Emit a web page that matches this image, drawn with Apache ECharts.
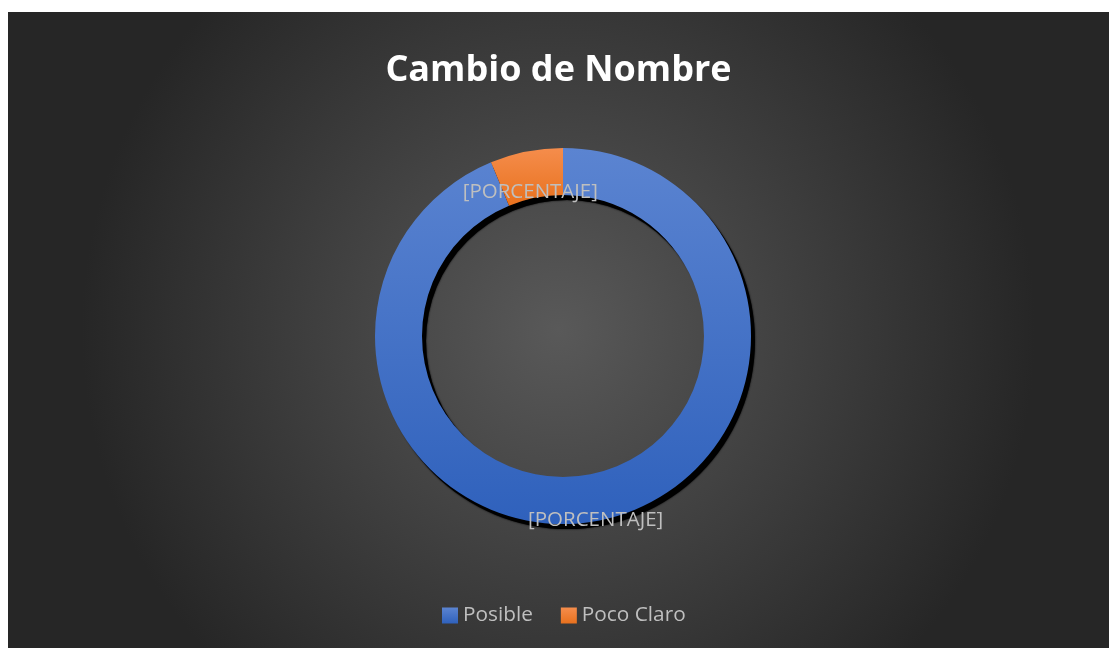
<!DOCTYPE html>
<html>
<head>
<meta charset="utf-8">
<script src="https://cdn.jsdelivr.net/npm/echarts@6/dist/echarts.min.js"></script>
<style>
  html, body { margin: 0; padding: 0; background: #ffffff; }
  .chart { position: absolute; left: 8px; top: 12px; width: 1101px; height: 636px; }
</style>
</head>
<body>
<div class="chart"></div>
<script>
// datos del gráfico
var categorias = ['Posible', 'Poco Claro'];
var valores = [15, 1];
var etiquetas = ['[PORCENTAJE]', '[PORCENTAJE]'];
var colores = [
  ['#5b84d1', '#2f61bc'],
  ['#f58d4c', '#e8711e']
];

var chartContainer = document.getElementsByClassName('chart')[0];
var chart = echarts.init(chartContainer);

var datos = categorias.map(function (nombre, i) {
  return {
    name: nombre,
    value: valores[i],
    label: { formatter: etiquetas[i] },
    itemStyle: {
      color: {
        type: 'linear', x: 0, y: 0, x2: 0, y2: 1,
        colorStops: [
          { offset: 0, color: colores[i][0] },
          { offset: 1, color: colores[i][1] }
        ]
      }
    }
  };
});

var option = {
  backgroundColor: {
    type: 'radial', x: 0.5, y: 0.5, r: 0.75,
    colorStops: [
      { offset: 0, color: '#595959' },
      { offset: 1, color: '#262626' }
    ]
  },
  title: {
    text: 'Cambio de Nombre',
    left: 'center',
    top: 36,
    textStyle: {
      fontFamily: 'Open Sans',
      fontWeight: 'bold',
      fontSize: 36,
      color: '#ffffff'
    }
  },
  legend: {
    bottom: 17,
    left: 429,
    itemWidth: 16,
    itemHeight: 16,
    itemGap: 28,
    icon: 'rect',
    itemStyle: { borderWidth: 0, shadowBlur: 0, shadowOffsetX: 0, shadowOffsetY: 0 },
    textStyle: {
      fontFamily: 'Open Sans',
      fontSize: 20.8,
      color: '#bfbfbf'
    },
    data: categorias
  },
  series: [
    {
      // sombra del anillo
      type: 'pie',
      silent: true,
      center: [559, 329],
      radius: [141, 188],
      label: { show: false },
      labelLine: { show: false },
      itemStyle: { color: '#000000', shadowColor: '#000000', shadowBlur: 2 },
      data: [{ name: 'sombra', value: 1 }]
    },
    {
      name: 'Cambio de Nombre',
      type: 'pie',
      center: [555, 324],
      radius: [141, 188],
      startAngle: 90,
      clockwise: true,
      avoidLabelOverlap: false,
      label: {
        show: true,
        position: 'inside',
        fontFamily: 'Open Sans',
        fontSize: 20.5,
        color: '#bfbfbf'
      },
      labelLayout: { dy: 20 },
      labelLine: { show: false },
      emphasis: { disabled: true },
      data: datos
    }
  ]
};

chart.setOption(option);
</script>
</body>
</html>
